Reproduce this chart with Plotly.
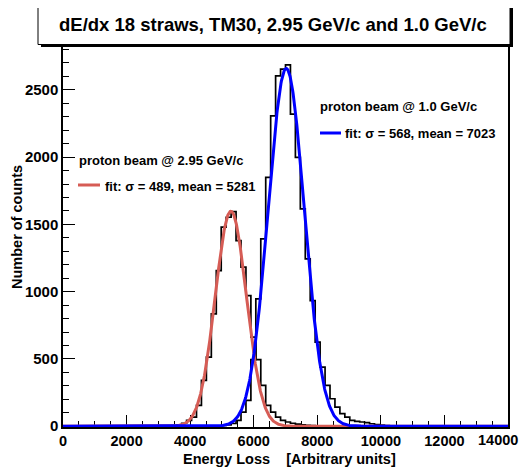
import numpy as np
import plotly.graph_objects as go

# ---------------- data ----------------
X_MIN, X_MAX, N_BINS = 0.0, 14000.0, 90

# bin index -> counts
red_bins = list(range(22, 52))
red_counts = [5, 10, 22, 43, 68, 155, 340, 513, 835, 1157,
              1479, 1553, 1595, 1379, 1182, 971, 662, 495, 303, 155,
              105, 68, 43, 31, 22, 15, 10, 6, 4, 2]

blue_bins = list(range(31, 67))
blue_counts = [3, 5, 10, 20, 43, 105, 192, 495, 947, 1392,
               1850, 2307, 2604, 2654, 2686, 2320, 1998, 1615, 1244, 934,
               625, 439, 303, 204, 142, 93, 68, 43, 36, 31,
               26, 18, 12, 8, 5, 3]

# Gaussian fit parameters (legend) and fitted amplitudes
red_fit = dict(amp=1598, mean=5281, sigma=489)
blue_fit = dict(amp=2659, mean=7023, sigma=568)

x_ticks = [0, 2000, 4000, 6000, 8000, 10000, 12000, 14000]
y_ticks = [0, 500, 1000, 1500, 2000, 2500]

title_text = "dE/dx 18 straws, TM30, 2.95 GeV/c and 1.0 GeV/c"
red_label = "proton beam @ 2.95 GeV/c"
red_fit_label = "fit: σ = 489, mean = 5281"
blue_label = "proton beam @ 1.0 GeV/c"
blue_fit_label = "fit: σ = 568, mean = 7023"
x_title = "Energy Loss\u00a0\u00a0\u00a0\u00a0[Arbitrary units]"
y_title = "Number of counts"

# ---------------- build ----------------
edges = np.linspace(X_MIN, X_MAX, N_BINS + 1)


def full_hist(bins, counts):
    h = np.zeros(N_BINS)
    for b, c in zip(bins, counts):
        h[b] = c
    return h


def step_xy(h):
    xs = list(edges)
    ys = list(h) + [h[-1]]
    return xs, ys


def gauss(p, x):
    return p["amp"] * np.exp(-0.5 * ((x - p["mean"]) / p["sigma"]) ** 2)


xf = np.linspace(X_MIN, X_MAX, 1401)

# page body has an 8px margin: the figure is placed at (8, 8) in the window
OFF = 8
W, H = 529 - 2 * OFF, 475 - 2 * OFF
PLOT_LEFT, PLOT_RIGHT, PLOT_TOP, PLOT_BOTTOM = 63, 508, 46, 427   # window px
L, R = PLOT_LEFT - OFF, (W + OFF) - PLOT_RIGHT
T, B = PLOT_TOP - OFF, (H + OFF) - PLOT_BOTTOM
PW, PH = W - L - R, H - T - B


def px_x(px):  # window pixel -> paper
    return (px - OFF - L) / PW


def px_y(py):
    return (H - B - (py - OFF)) / PH


FONT = "Liberation Sans, Arial, Helvetica, sans-serif"
RED = "#d65c55"
BLUE = "#0000ff"

# the last x label is drawn as a right-aligned annotation so it stays on the page
x_ticktext = [str(v) for v in x_ticks[:-1]] + [""]
last_x_label = str(x_ticks[-1])

fig = go.Figure()
for bins, counts in ((red_bins, red_counts), (blue_bins, blue_counts)):
    xs, ys = step_xy(full_hist(bins, counts))
    fig.add_trace(go.Scatter(x=xs, y=ys, mode="lines",
                             line=dict(color="black", width=1.7, shape="hv"),
                             hoverinfo="skip", showlegend=False))

fig.add_trace(go.Scatter(x=xf, y=gauss(red_fit, xf), mode="lines",
                         line=dict(color=RED, width=3), showlegend=False))
fig.add_trace(go.Scatter(x=xf, y=gauss(blue_fit, xf), mode="lines",
                         line=dict(color=BLUE, width=3), showlegend=False))

axis_common = dict(showline=True, linecolor="black", linewidth=1.5,
                   mirror=True, showgrid=False, zeroline=False,
                   ticks="inside", tickcolor="black", tickwidth=1,
                   ticklen=12, layer="below traces", automargin=False,
                   ticklabeloverflow="allow")

tick_font_x = dict(family=FONT, size=14.5, color="black", weight="bold")
fig.update_xaxes(range=[X_MIN, X_MAX], tickvals=x_ticks,
                 ticktext=x_ticktext, tickfont=tick_font_x,
                 minor=dict(ticks="inside", dtick=500, ticklen=6,
                            tickcolor="black", tickwidth=1),
                 **axis_common)
fig.update_yaxes(range=[-6, 2826], tickvals=y_ticks,
                 ticktext=[str(v) for v in y_ticks],
                 tickfont=dict(family=FONT, size=15, color="black", weight="bold"),
                 minor=dict(ticks="inside", dtick=100, tick0=0, ticklen=6,
                            tickcolor="black", tickwidth=1),
                 **axis_common)

shapes = []
# title box shadow and box
shapes.append(dict(type="rect", xref="paper", yref="paper",
                   x0=px_x(41), x1=px_x(513), y0=px_y(47), y1=px_y(7),
                   fillcolor="black", line=dict(width=0), layer="above"))
shapes.append(dict(type="rect", xref="paper", yref="paper",
                   x0=px_x(38), x1=px_x(510), y0=px_y(44.5), y1=px_y(4),
                   fillcolor="white", line=dict(color="black", width=1), layer="above"))
# legend line samples
shapes.append(dict(type="line", xref="paper", yref="paper",
                   x0=px_x(78), x1=px_x(100), y0=px_y(185), y1=px_y(185),
                   line=dict(color=RED, width=3)))
shapes.append(dict(type="line", xref="paper", yref="paper",
                   x0=px_x(320), x1=px_x(341), y0=px_y(133), y1=px_y(133),
                   line=dict(color=BLUE, width=3)))

ann_font = dict(family=FONT, size=13, color="black", weight="bold")
title_font = dict(family=FONT, size=14.5, color="black", weight="bold")
annotations = [
    dict(text=title_text, xref="paper", yref="paper", x=px_x(273), y=px_y(24.5),
         showarrow=False, xanchor="center", yanchor="middle",
         font=dict(family=FONT, size=18.5, color="black", weight="bold")),
    dict(text=red_label, xref="paper", yref="paper", x=px_x(77), y=px_y(160),
         showarrow=False, xanchor="left", yanchor="middle", font=ann_font),
    dict(text=red_fit_label, xref="paper", yref="paper", x=px_x(103), y=px_y(186),
         showarrow=False, xanchor="left", yanchor="middle", font=ann_font),
    dict(text=blue_label, xref="paper", yref="paper", x=px_x(318), y=px_y(106),
         showarrow=False, xanchor="left", yanchor="middle", font=ann_font),
    dict(text=blue_fit_label, xref="paper", yref="paper", x=px_x(343), y=px_y(133),
         showarrow=False, xanchor="left", yanchor="middle", font=ann_font),
    dict(text=x_title, xref="paper", yref="paper", x=px_x(289), y=px_y(459),
         showarrow=False, xanchor="center", yanchor="middle", font=title_font),
    dict(text=y_title, xref="paper", yref="paper", x=px_x(17), y=px_y(227),
         showarrow=False, xanchor="center", yanchor="middle", textangle=-90,
         font=title_font),
    dict(text=last_x_label, xref="paper", yref="paper", x=px_x(520), y=px_y(440),
         showarrow=False, xanchor="right", yanchor="middle", font=tick_font_x),
]

fig.update_layout(width=W, height=H, margin=dict(l=L, r=R, t=T, b=B, pad=0),
                  paper_bgcolor="white", plot_bgcolor="white",
                  shapes=shapes, annotations=annotations, showlegend=False)

fig.write_html("out.html")
